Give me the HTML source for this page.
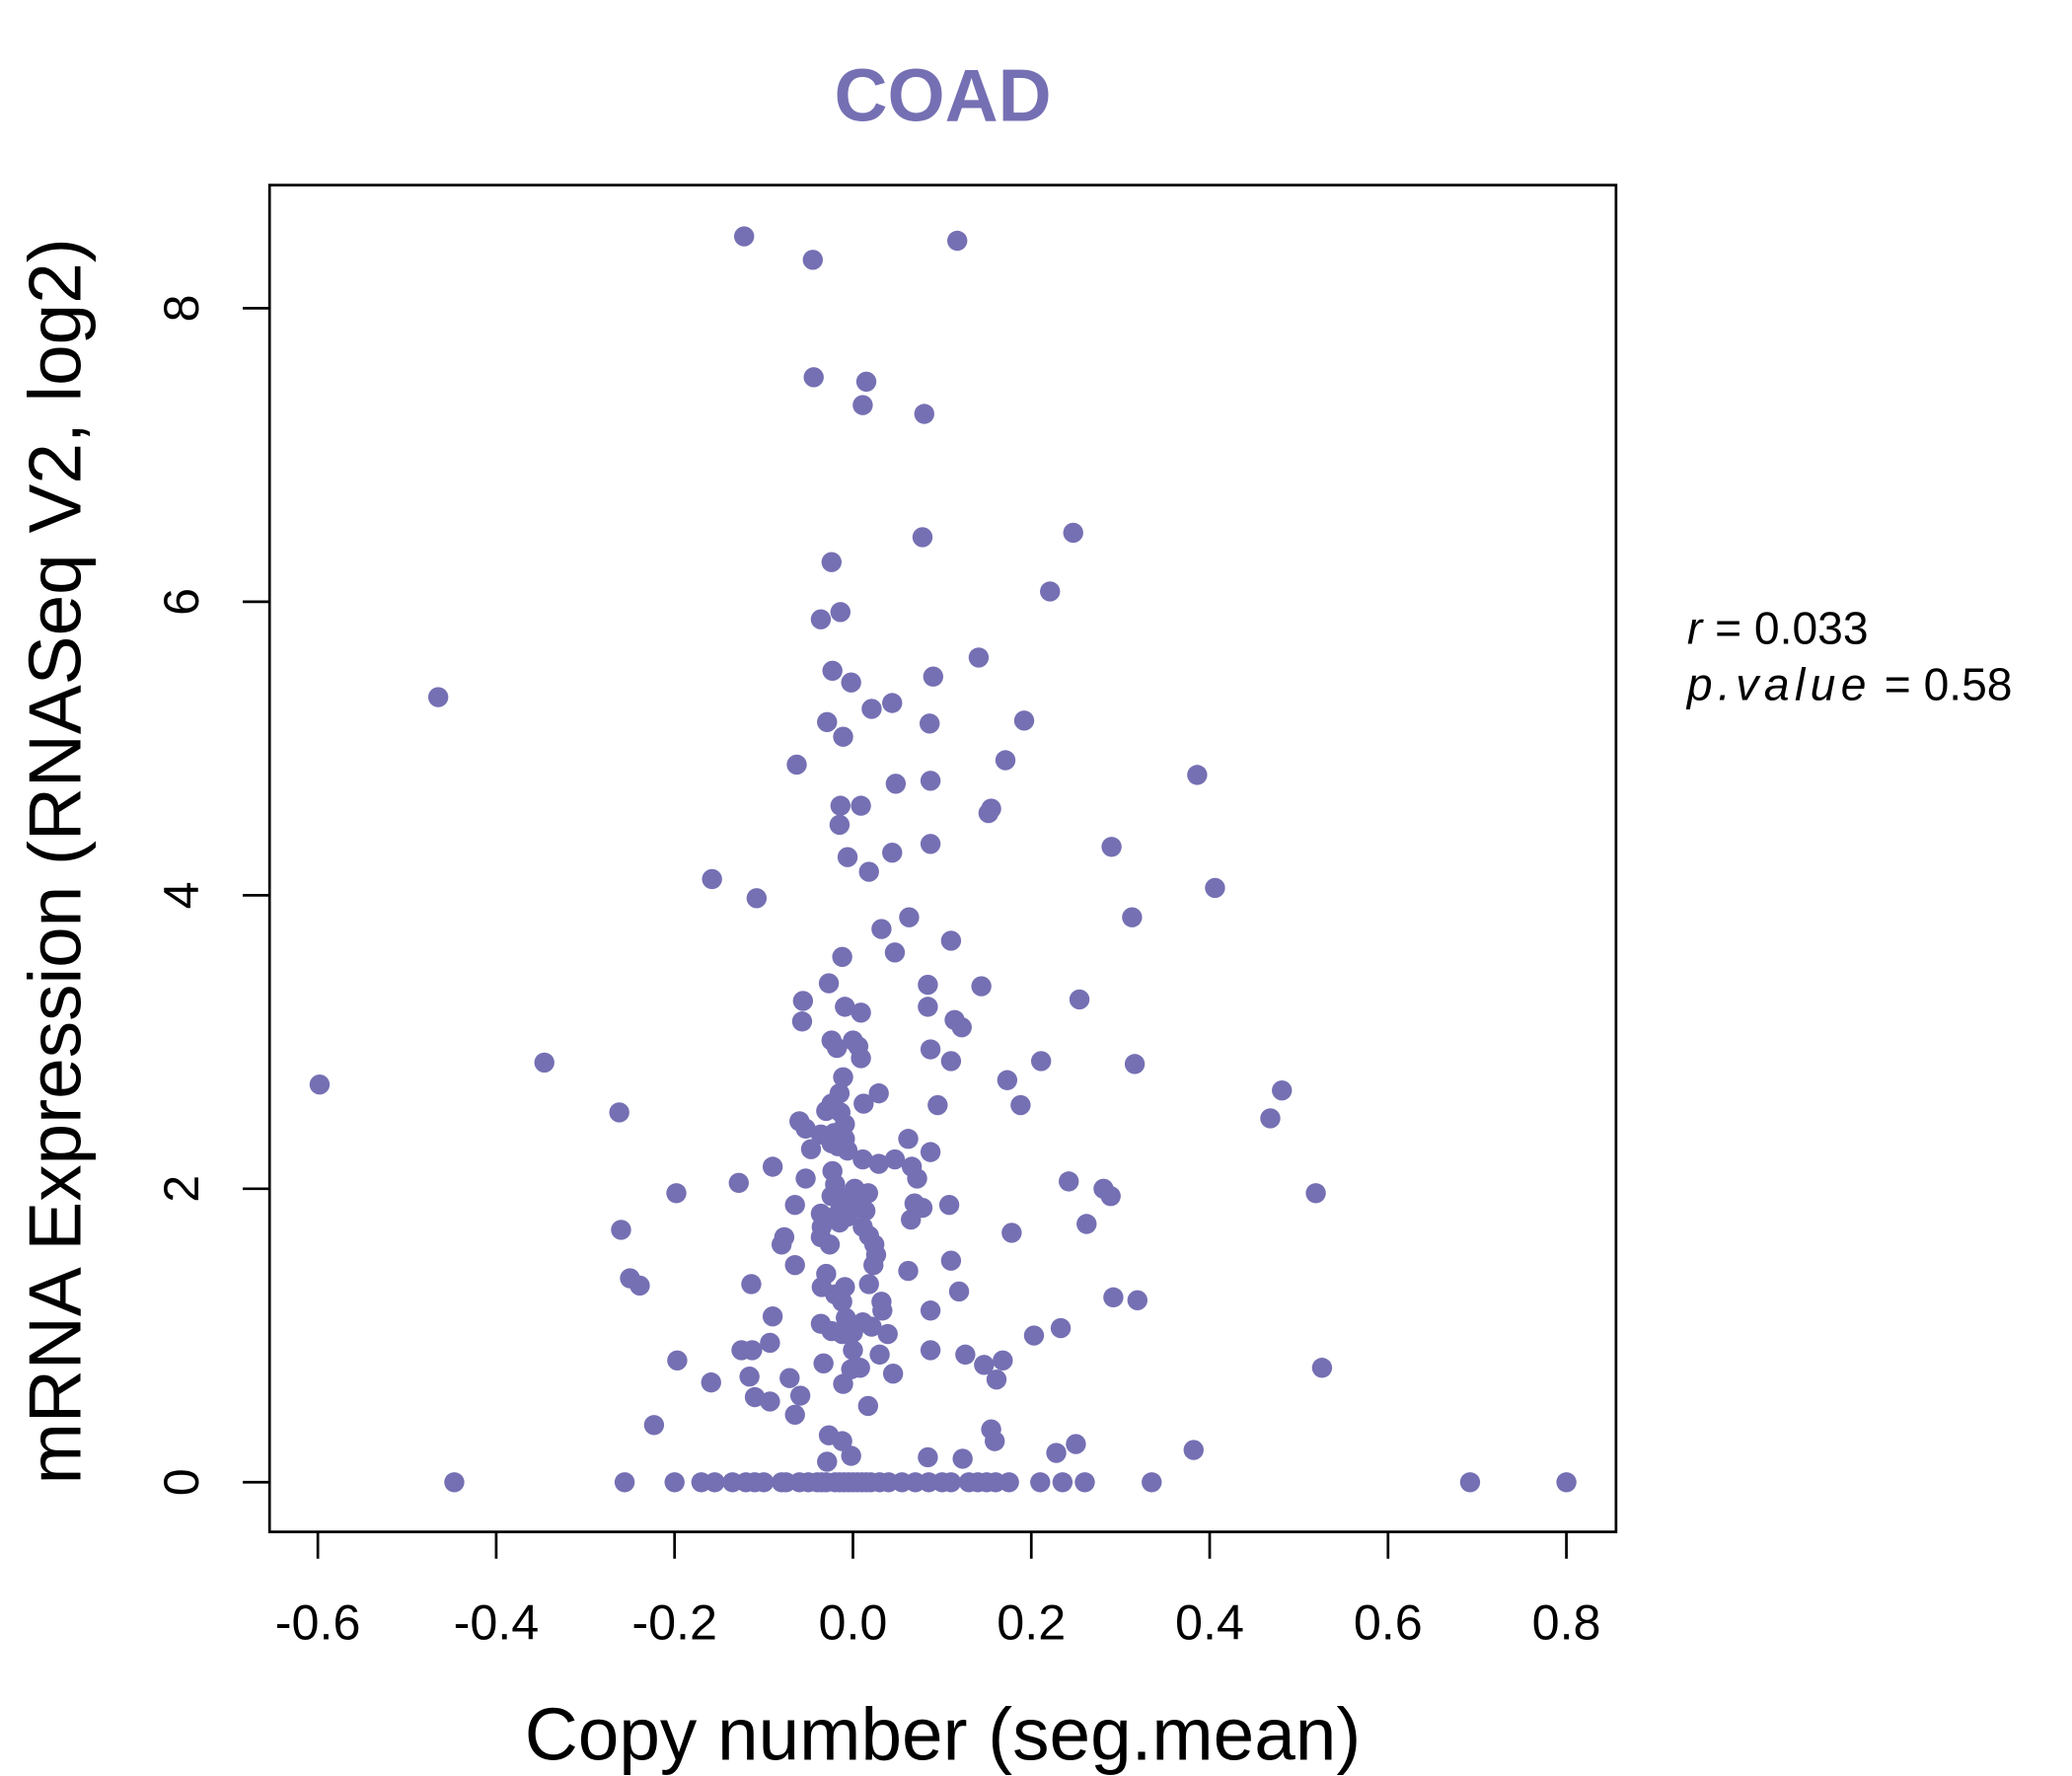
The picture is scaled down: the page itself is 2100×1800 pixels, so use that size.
<!DOCTYPE html>
<html><head><meta charset="utf-8"><style>html,body{margin:0;padding:0;background:#fff}svg{display:block}</style></head>
<body>
<svg id="chart" width="2100" height="1800" viewBox="0 0 1545 1324" preserveAspectRatio="none" xmlns="http://www.w3.org/2000/svg" font-family="'Liberation Sans', sans-serif">
<rect width="1545" height="1324" fill="#fff"/>
<text x="703" y="90" text-anchor="middle" font-size="55" font-weight="bold" fill="#7570B3">COAD</text>
<rect x="201" y="138" width="1004" height="1004" fill="none" stroke="#000" stroke-width="2"/>
<g id="xaxis"></g>
<g id="yaxis"></g>
<g id="points"></g>
<text x="703" y="1312" text-anchor="middle" font-size="55">Copy number (seg.mean)</text>
<text transform="translate(60,642) rotate(-90)" text-anchor="middle" font-size="55">mRNA Expression (RNASeq V2, log2)</text>
<text x="1258" y="480" font-size="34"><tspan font-style="italic">r</tspan> = 0.033</text>
<text x="1258" y="522" font-size="34"><tspan font-style="italic" letter-spacing="4">p.value</tspan> = 0.58</text>
</svg>
<script>
const xTicks = [-0.6,-0.4,-0.2,0.0,0.2,0.4,0.6,0.8];
const xTickLabels = ["-0.6","-0.4","-0.2","0.0","0.2","0.4","0.6","0.8"];
const yTicks = [0,2,4,6,8];
const yTickLabels = ["0","2","4","6","8"];
const xVals = [-0.122,-0.045,0.117,-0.044,0.015,0.011,0.080,0.078,0.247,-0.024,0.221,-0.014,-0.036,-0.465,0.141,-0.023,0.090,-0.002,0.021,0.044,-0.029,0.086,0.192,-0.011,-0.063,0.171,0.048,0.087,0.386,-0.014,0.009,0.155,0.152,-0.015,0.290,0.087,0.044,-0.006,0.018,-0.158,0.406,-0.108,0.313,0.063,0.032,0.110,0.047,-0.012,-0.027,0.084,0.144,-0.056,0.254,-0.009,0.084,0.009,-0.057,0.114,0.122,-0.024,0,0.006,-0.018,0.087,0.009,-0.346,0.211,0.110,0.316,-0.598,-0.011,0.173,0.481,0.029,-0.015,-0.024,0.012,0.095,0.188,-0.030,-0.262,-0.014,-0.060,0.468,-0.009,-0.053,-0.021,-0.036,-0.009,0.062,-0.024,-0.017,-0.047,-0.006,0.087,0.047,0.011,0.029,0.066,-0.023,0.072,-0.053,-0.090,-0.128,0.242,-0.020,0.281,0.002,-0.198,0.519,0.289,0.017,-0.024,-0.006,-0.065,0.108,0.069,0.078,-0.014,0.006,-0.036,0.014,-0.021,-0.006,0.065,-0.015,0.262,-0.035,0.011,-0.260,0.178,-0.077,-0.036,0.018,-0.080,-0.026,0.024,0.026,0.110,-0.065,0.023,0.062,-0.030,-0.250,-0.239,-0.114,0.018,-0.035,-0.009,0.119,-0.020,0.292,0.319,-0.012,0.032,0.033,0.087,-0.090,-0.008,-0.036,0.011,0.233,0.021,-0.024,0,0.039,0.203,-0.012,-0.093,-0.125,-0.113,0.087,0,0.030,0.126,-0.197,-0.033,0.168,0.147,0.526,0.008,-0.002,0.045,-0.116,-0.071,0.161,-0.159,-0.011,-0.059,-0.110,-0.093,0.017,-0.065,-0.223,0.155,-0.027,-0.012,0.159,0.250,0.382,0.228,-0.002,0.084,0.123,-0.029,
-0.447,-0.256,-0.2,-0.17,-0.155,-0.135,-0.12,-0.11,-0.1,-0.08,-0.075,-0.06,-0.05,-0.04,-0.035,-0.03,-0.02,-0.015,-0.01,-0.005,0,0.005,0.01,0.015,0.02,0.03,0.04,0.055,0.07,0.085,0.1,0.11,0.13,0.14,0.15,0.16,0.175,0.21,0.235,0.26,0.335,0.692,0.8];
const yVals = [8.49,8.33,8.46,7.53,7.50,7.34,7.28,6.44,6.47,6.27,6.07,5.93,5.88,5.35,5.62,5.53,5.49,5.45,5.27,5.31,5.18,5.17,5.19,5.08,4.89,4.92,4.76,4.78,4.82,4.61,4.61,4.59,4.56,4.48,4.33,4.35,4.29,4.26,4.16,4.11,4.05,3.98,3.85,3.85,3.77,3.69,3.61,3.58,3.40,3.39,3.38,3.28,3.29,3.24,3.24,3.20,3.14,3.15,3.10,3.01,3.01,2.97,2.96,2.95,2.89,2.86,2.87,2.87,2.85,2.71,2.76,2.74,2.67,2.65,2.65,2.58,2.58,2.57,2.57,2.53,2.52,2.52,2.46,2.48,2.44,2.41,2.38,2.37,2.34,2.34,2.31,2.29,2.27,2.26,2.25,2.20,2.20,2.17,2.15,2.12,2.07,2.07,2.15,2.04,2.05,2.03,2.00,2.00,1.97,1.97,1.95,1.97,1.95,1.94,1.89,1.89,1.90,1.87,1.86,1.87,1.83,1.85,1.81,1.81,1.79,1.77,1.76,1.74,1.74,1.72,1.70,1.67,1.67,1.68,1.62,1.62,1.62,1.55,1.51,1.48,1.48,1.44,1.42,1.39,1.34,1.35,1.35,1.33,1.33,1.30,1.28,1.26,1.24,1.23,1.23,1.17,1.17,1.13,1.12,1.08,1.09,1.05,1.06,1.03,1.02,1.01,1.00,1.01,0.95,0.90,0.90,0.90,0.90,0.87,0.87,0.83,0.81,0.83,0.80,0.78,0.78,0.77,0.74,0.72,0.71,0.70,0.68,0.67,0.59,0.58,0.55,0.52,0.46,0.39,0.36,0.32,0.28,0.28,0.26,0.22,0.20,0.18,0.17,0.16,0.14,
0,0,0,0,0,0,0,0,0,0,0,0,0,0,0,0,0,0,0,0,0,0,0,0,0,0,0,0,0,0,0,0,0,0,0,0,0,0,0,0,0,0,0];

const NS = "http://www.w3.org/2000/svg";
function xs(v){ return 636 + v*665; }
function ys(v){ return 1105 - v*109.4; }
function mk(tag, attrs, parent){ const e=document.createElementNS(NS,tag); for(const k in attrs) e.setAttribute(k,attrs[k]); parent.appendChild(e); return e; }

const xg = document.getElementById('xaxis');
xTicks.forEach((t,i)=>{
  const ln = mk('line',{x1:xs(t),x2:xs(t),y1:1142,y2:1162,stroke:'#000','stroke-width':2},xg);
  
  
  const tx = mk('text',{x:xs(t),y:1222,'text-anchor':'middle','font-size':37},xg);
  tx.textContent = xTickLabels[i];
  
  
});
const yg = document.getElementById('yaxis');
yTicks.forEach((t,i)=>{
  const ln = mk('line',{x1:181,x2:201,y1:ys(t),y2:ys(t),stroke:'#000','stroke-width':2},yg);
  
  
  const tx = mk('text',{transform:`translate(148,${ys(t)}) rotate(-90)`,'text-anchor':'middle','font-size':37},yg);
  tx.textContent = yTickLabels[i];
  
  
});
const pg = document.getElementById('points');
xVals.forEach((x,i)=>{
  const c = mk('circle',{cx:xs(x),cy:ys(yVals[i]),r:7.5,fill:'#7570B3'},pg);
  
  
});
</script>
</body></html>
